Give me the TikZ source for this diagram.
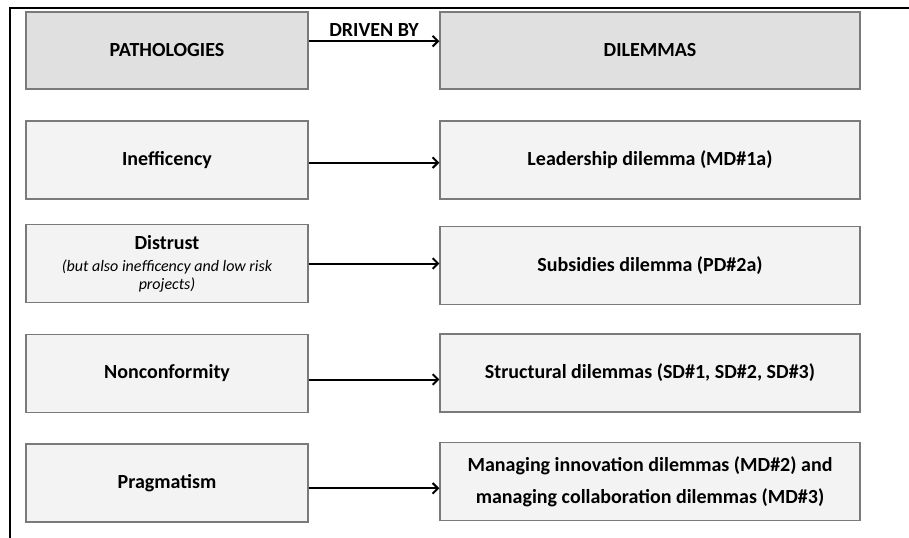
\documentclass[tikz,border=0pt]{standalone}
\usepackage{fontspec}
\setmainfont{Carlito}
\usetikzlibrary{arrows.meta}
\definecolor{headgray}{HTML}{E0E0E0}
\definecolor{rowgray}{HTML}{F3F3F3}
\definecolor{edgegray}{HTML}{7A7A7A}
\newcommand{\asidefont}{\mdseries\itshape\fontsize{12}{13}\selectfont}
\begin{document}
\begin{tikzpicture}[x=0.75pt, y=-0.75pt,
  every node/.style={font=\fontsize{15}{18}\selectfont\bfseries},
  >={Straight Barb[length=4pt,width=8pt]},
  box/.style={draw=edgegray, line width=0.9pt, align=center, minimum height=58.5pt, inner sep=2pt},
  lbox/.style={box, minimum width=211.5pt},
  rbox/.style={box, minimum width=315pt},
  link/.style={->, line width=1.5pt}]
  \useasboundingbox (0,0) rectangle (909,538);
  \draw[line width=1.8pt] (10,538) -- (10,8) -- (909,8);

  % header row
  \node[lbox, fill=headgray, minimum height=57.75pt] (path) at (167,50.5) {PATHOLOGIES};
  \node[rbox, fill=headgray, minimum height=57.75pt] (dil) at (650,50.5) {DILEMMAS};
  \draw[link] ([yshift=7pt]path.east) -- node[above, inner sep=3pt] {DRIVEN BY} ([yshift=7pt]path.east -| dil.west);

  % pathologies and the dilemmas behind them
  \node[lbox, fill=rowgray] (ineff) at (167,160) {Inefficency};
  \node[rbox, fill=rowgray] (lead) at (650,160) {Leadership dilemma (MD\#1a)};
  \draw[link] ([yshift=-2pt]ineff.east) -- ([yshift=-2pt]ineff.east -| lead.west);

  \node[lbox, fill=rowgray] (distr) at (167,263.5) {Distrust\\[-1pt]{\asidefont (but also inefficency and low risk}\\[-5pt]{\asidefont projects)}};
  \node[rbox, fill=rowgray] (subs) at (650,265.5) {Subsidies dilemma (PD\#2a)};
  \draw[link] (distr.east) -- (distr.east -| subs.west);

  \node[lbox, fill=rowgray] (nonc) at (167,373.5) {Nonconformity};
  \node[rbox, fill=rowgray] (struc) at (650,373) {Structural dilemmas (SD\#1, SD\#2, SD\#3)};
  \draw[link] ([yshift=-4.5pt]nonc.east) -- ([yshift=-4.5pt]nonc.east -| struc.west);

  \node[lbox, fill=rowgray] (pragm) at (167,483) {Pragmatism};
  \node[rbox, fill=rowgray] (manag) at (650,481.5) {Managing innovation dilemmas (MD\#2) and\\[6pt]managing collaboration dilemmas (MD\#3)};
  \draw[link] ([yshift=-4pt]pragm.east) -- ([yshift=-4pt]pragm.east -| manag.west);
\end{tikzpicture}
\end{document}
